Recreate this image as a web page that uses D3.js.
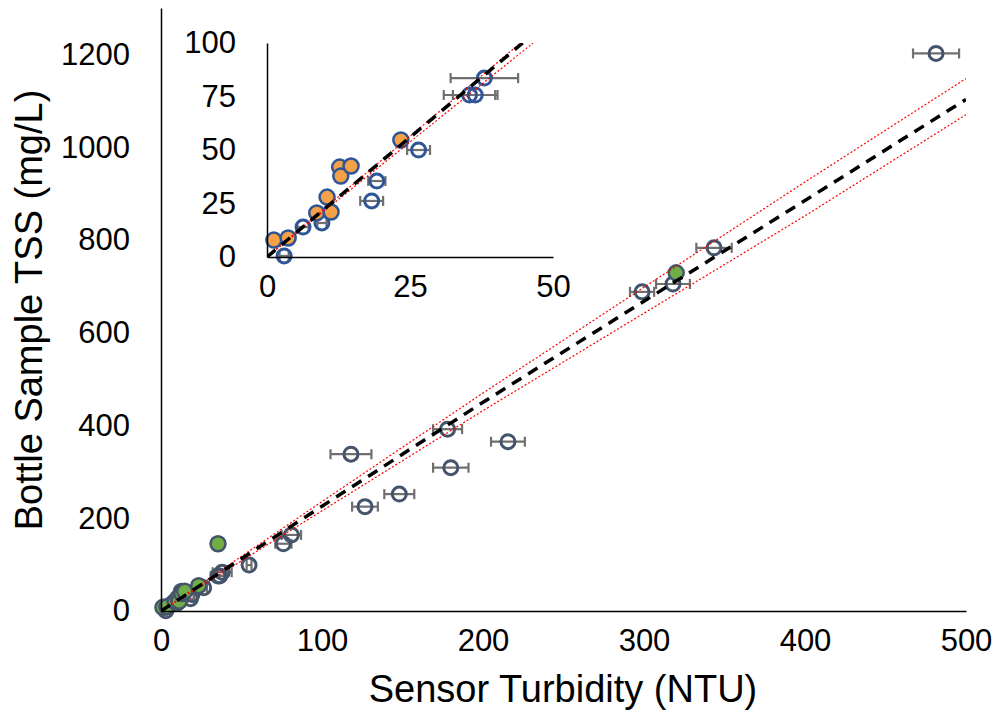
<!DOCTYPE html>
<html>
<head>
    <meta charset="UTF-8">
    <title>TSS vs Turbidity</title>
    <style>
        body { margin: 0; background: #fff; }
        text { font-family: "Liberation Sans", Arial, sans-serif; fill: #000; }
    </style>
</head>
<body>
    <div id="chart"></div>
    <script src="https://cdn.jsdelivr.net/npm/d3@7"></script>
    <script>
    // hollow points: sensor turbidity (NTU), bottle TSS (mg/L), turbidity error (+/- NTU)
    const openX   = [3.0, 6.3, 9.6, 18.3, 19.2, 26.5, 35.4, 36.4, 38.0, 54.7, 76, 81, 118, 126.7, 148, 178, 180, 215.5, 298.8, 318, 343.5, 481.4];
    const openY   = [0.5, 14, 15.9, 26.2, 35.5, 50, 75.7, 75.7, 83.6, 99, 145, 164, 338, 225, 252, 392, 309, 365, 688, 705, 783, 1202];
    const openErr = [0.8, 1, 0.8, 2, 1.5, 2, 4.5, 3.9, 5.9, 1.5, 5, 6, 12.7, 8, 9.3, 9, 11, 10.5, 7.5, 10.5, 11, 14.3];

    // filled points (green in main plot, orange in inset)
    const fillX = [1.2, 3.7, 8.7, 10.5, 11.2, 12.7, 12.9, 14.7, 23.4, 35.4, 320];
    const fillY = [7.9, 8.9, 20.6, 28, 21, 42, 37.8, 42.5, 54.7, 145, 729];

    // fitted line and bounds
    const fitX   = [0, 100, 200, 300, 400, 500];
    const fitY   = [0, 226, 450, 668, 885, 1103];
    const upperY = [0, 236, 470, 698, 925, 1148];
    const lowerY = [0, 216, 432, 642, 852, 1070];

    // inset fit, read where the lines meet the top of the inset (y = 100)
    const insetFitX   = [0, 44.7];
    const insetFitY   = [0, 100];
    const insetUpperX = [0, 44.3];
    const insetLowerX = [0, 46.5];

    const xTicks = [0, 100, 200, 300, 400, 500];
    const yTicks = [0, 200, 400, 600, 800, 1000, 1200];
    const insetXTicks = [0, 25, 50];
    const insetYTicks = [0, 25, 50, 75, 100];

    const W = 1003, H = 723;
    const svg = d3.select("#chart").append("svg")
        .attr("width", W)
        .attr("height", H);

    const x = d3.scaleLinear().domain([0, 500]).range([161, 966]);
    const y = d3.scaleLinear().domain([0, 1300]).range([611, 8]);

    const ix = d3.scaleLinear().domain([0, 50]).range([267, 553]);
    const iy = d3.scaleLinear().domain([0, 100]).range([257, 43]);

    const tickFont = "31px";
    const navy = "#44546a";
    const barColor = "#6f6f6f";
    const fmt = d3.format("d");

    svg.append("defs").append("clipPath").attr("id", "clipMain")
        .append("rect")
        .attr("x", x(0)).attr("y", y(1300))
        .attr("width", x(500) - x(0)).attr("height", y(0) - y(1300));
    svg.select("defs").append("clipPath").attr("id", "clipInset")
        .append("rect")
        .attr("x", ix(0)).attr("y", iy(100))
        .attr("width", ix(50) - ix(0)).attr("height", iy(0) - iy(100));

    // ---------- main plot ----------
    const openData = openX.map((d, i) => ({x: d, y: openY[i], e: openErr[i]}));
    const fillData = fillX.map((d, i) => ({x: d, y: fillY[i]}));

    function errorBars(g, data, sx, sy, cap) {
        const bars = g.append("g")
            .selectAll("g")
            .data(data)
            .join("g")
            .style("stroke", barColor)
            .style("stroke-width", 2.2);
        bars.append("line")
            .attr("x1", d => sx(d.x - d.e)).attr("x2", d => sx(d.x + d.e))
            .attr("y1", d => sy(d.y)).attr("y2", d => sy(d.y));
        bars.append("line")
            .attr("x1", d => sx(d.x - d.e)).attr("x2", d => sx(d.x - d.e))
            .attr("y1", d => sy(d.y) - cap).attr("y2", d => sy(d.y) + cap);
        bars.append("line")
            .attr("x1", d => sx(d.x + d.e)).attr("x2", d => sx(d.x + d.e))
            .attr("y1", d => sy(d.y) - cap).attr("y2", d => sy(d.y) + cap);
    }

    const main = svg.append("g");

    errorBars(main, openData, x, y, 5);

    main.append("g")
        .selectAll("circle")
        .data(openData)
        .join("circle")
        .attr("cx", d => x(d.x))
        .attr("cy", d => y(d.y))
        .attr("r", 7)
        .style("fill", "none")
        .style("stroke", navy)
        .style("stroke-width", 3);

    main.append("g")
        .selectAll("circle")
        .data(fillData)
        .join("circle")
        .attr("cx", d => x(d.x))
        .attr("cy", d => y(d.y))
        .attr("r", 7.5)
        .style("fill", "#70ad47")
        .style("stroke", navy)
        .style("stroke-width", 2.5);

    const mainLines = main.append("g").attr("clip-path", "url(#clipMain)");
    const lineOf = (ys) => d3.line().x((d, i) => x(fitX[i])).y((d, i) => y(ys[i]));

    [upperY, lowerY].forEach(ys => {
        mainLines.append("path")
            .datum(ys)
            .attr("d", lineOf(ys))
            .style("fill", "none")
            .style("stroke", "#ff0000")
            .style("stroke-width", 1.2)
            .style("stroke-dasharray", "2,2");
    });
    mainLines.append("path")
        .datum(fitY)
        .attr("d", lineOf(fitY))
        .style("fill", "none")
        .style("stroke", "#000")
        .style("stroke-width", 3.5)
        .style("stroke-dasharray", "11,8");

    // axes
    const xAxis = svg.append("g")
        .attr("transform", `translate(0,${y(0)})`)
        .call(d3.axisBottom(x).tickValues(xTicks).tickFormat(fmt).tickSize(0).tickPadding(18));
    const yAxis = svg.append("g")
        .attr("transform", `translate(${x(0)},0)`)
        .call(d3.axisLeft(y).tickValues(yTicks).tickFormat(fmt).tickSize(0).tickPadding(31));
    [xAxis, yAxis].forEach(a => {
        a.select(".domain").attr("stroke", "#000").attr("stroke-width", 1.5);
        a.selectAll("text").style("font-size", tickFont).style("font-family", "Liberation Sans, Arial, sans-serif");
    });

    svg.append("text")
        .attr("x", 563)
        .attr("y", 702)
        .attr("text-anchor", "middle")
        .style("font-size", "38px")
        .text("Sensor Turbidity (NTU)");

    svg.append("text")
        .attr("transform", "translate(42,310) rotate(-90)")
        .attr("text-anchor", "middle")
        .style("font-size", "38px")
        .text("Bottle Sample TSS (mg/L)");

    // ---------- inset ----------
    const inset = svg.append("g");
    const insetOpen = openData.filter(d => d.x <= 50 && d.y <= 100);
    const insetFill = fillData.filter(d => d.x <= 50 && d.y <= 100);

    errorBars(inset, insetOpen, ix, iy, 5);

    inset.append("g")
        .selectAll("circle")
        .data(insetOpen)
        .join("circle")
        .attr("cx", d => ix(d.x))
        .attr("cy", d => iy(d.y))
        .attr("r", 7)
        .style("fill", "none")
        .style("stroke", "#2f5597")
        .style("stroke-width", 3);

    inset.append("g")
        .selectAll("circle")
        .data(insetFill)
        .join("circle")
        .attr("cx", d => ix(d.x))
        .attr("cy", d => iy(d.y))
        .attr("r", 7.5)
        .style("fill", "#f4a148")
        .style("stroke", "#2f5597")
        .style("stroke-width", 2.5);

    const insetLines = inset.append("g").attr("clip-path", "url(#clipInset)");
    [insetUpperX, insetLowerX].forEach(xs => {
        insetLines.append("line")
            .attr("x1", ix(xs[0])).attr("y1", iy(insetFitY[0]))
            .attr("x2", ix(xs[1])).attr("y2", iy(insetFitY[1]))
            .style("stroke", "#ff0000")
            .style("stroke-width", 1.2)
            .style("stroke-dasharray", "2,2");
    });
    insetLines.append("line")
        .attr("x1", ix(insetFitX[0])).attr("y1", iy(insetFitY[0]))
        .attr("x2", ix(insetFitX[1])).attr("y2", iy(insetFitY[1]))
        .style("stroke", "#000")
        .style("stroke-width", 3.5)
        .style("stroke-dasharray", "11,8");

    const ixAxis = svg.append("g")
        .attr("transform", `translate(0,${iy(0)})`)
        .call(d3.axisBottom(ix).tickValues(insetXTicks).tickFormat(fmt).tickSize(0).tickPadding(18));
    const iyAxis = svg.append("g")
        .attr("transform", `translate(${ix(0)},0)`)
        .call(d3.axisLeft(iy).tickValues(insetYTicks).tickFormat(fmt).tickSize(0).tickPadding(31));
    [ixAxis, iyAxis].forEach(a => {
        a.select(".domain").attr("stroke", "#000").attr("stroke-width", 1.5);
        a.selectAll("text").style("font-size", tickFont).style("font-family", "Liberation Sans, Arial, sans-serif");
    });
    </script>
</body>
</html>
